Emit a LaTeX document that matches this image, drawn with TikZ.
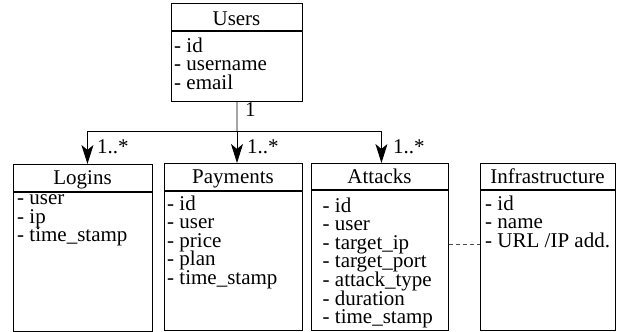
\documentclass[tikz,border=0pt]{standalone}
\usepackage{fontspec}
\setmainfont{Liberation Serif}
\newfontfamily\diagfont{Liberation Serif}
\newcommand\fieldrows[1]{\vtop{\lineskiplimit=-50pt\lineskip=0pt\baselineskip=18.6pt #1}}
\usetikzlibrary{arrows.meta,calc}
\begin{document}
\begin{tikzpicture}[x=1pt,y=-1pt,
  every node/.style={font=\diagfont\fontsize{21}{18.6}\selectfont},
  box/.style={draw=black,line width=0.9pt,anchor=north west,inner sep=0pt},
  ttl/.style={anchor=base,inner sep=0pt},
  body/.style={anchor=base west,inner sep=0pt},
  sepline/.style={line width=2pt},
  conn/.style={line width=0.9pt},
  arr/.style={conn,-{Stealth[length=19pt,width=12pt,inset=5pt]}},
  lab/.style={anchor=base west,inner sep=0pt},
  assoc/.style={line width=0.7pt,draw=black!70,dash pattern=on 4pt off 3pt}]
\useasboundingbox (0,0) rectangle (619,332);

% Users
\node[box,minimum width=131pt,minimum height=98pt] (users) at (171,3) {};
\draw[sepline] ([yshift=-28pt]users.north west) -- ([yshift=-28pt]users.north east);
\node[ttl] (usersT) at (236.5,25) {Users};
\node[body] (usersB) at (174,52) {\fieldrows{\hbox{- id}\hbox{- username}\hbox{- email}}};

% Logins
\node[box,minimum width=139pt,minimum height=167pt] (logins) at (13,164) {};
\draw[sepline] ([yshift=-28pt]logins.north west) -- ([yshift=-28pt]logins.north east);
\node[ttl] (loginsT) at (82.5,184) {Logins};
\node[body] (loginsB) at (17,204.5) {\fieldrows{\hbox{- user}\hbox{- ip}\hbox{- time\_stamp}}};

% Payments
\node[box,minimum width=138pt,minimum height=167pt] (payments) at (164,163) {};
\draw[sepline] ([yshift=-28pt]payments.north west) -- ([yshift=-28pt]payments.north east);
\node[ttl] (paymentsT) at (233,183) {Payments};
\node[body] (paymentsB) at (167,210) {\fieldrows{\hbox{- id}\hbox{- user}\hbox{- price}\hbox{- plan}\hbox{- time\_stamp}}};

% Attacks
\node[box,minimum width=137pt,minimum height=167pt] (attacks) at (311,163) {};
\draw[sepline] ([yshift=-27pt]attacks.north west) -- ([yshift=-27pt]attacks.north east);
\node[ttl] (attacksT) at (379.5,183) {Attacks};
\node[body] (attacksB) at (322.5,212) {\fieldrows{\hbox{- id}\hbox{- user}\hbox{- target\_ip}\hbox{- target\_port}\hbox{- attack\_type}\hbox{- duration}\hbox{- time\_stamp}}};

% Infrastructure
\node[box,minimum width=135pt,minimum height=167pt] (infra) at (480,163) {};
\draw[sepline] ([yshift=-27pt]infra.north west) -- ([yshift=-27pt]infra.north east);
\node[ttl] (infraT) at (547.5,183) {Infrastructure};
\node[body] (infraB) at (485,210) {\fieldrows{\hbox{- id}\hbox{- name}\hbox{- URL /IP add.}}};

% connectors
\coordinate (j) at (237,131);
\draw[conn] (users.south) -- (j);
\draw[arr] (j) -- (j |- payments.north);
\draw[arr] (j) -| ([xshift=4.5pt]logins.north);
\draw[arr] (j) -| ([xshift=1.5pt]attacks.north);
\draw[assoc] ([yshift=3pt]attacks.east) -- ([yshift=3pt]infra.west);

% labels
\node[lab] (l1) at (245,116) {1};
\node[lab] (l2) at (97,153) {1..*};
\node[lab] (l3) at (247,153) {1..*};
\node[lab] (l4) at (393,153) {1..*};
\end{tikzpicture}
\end{document}
